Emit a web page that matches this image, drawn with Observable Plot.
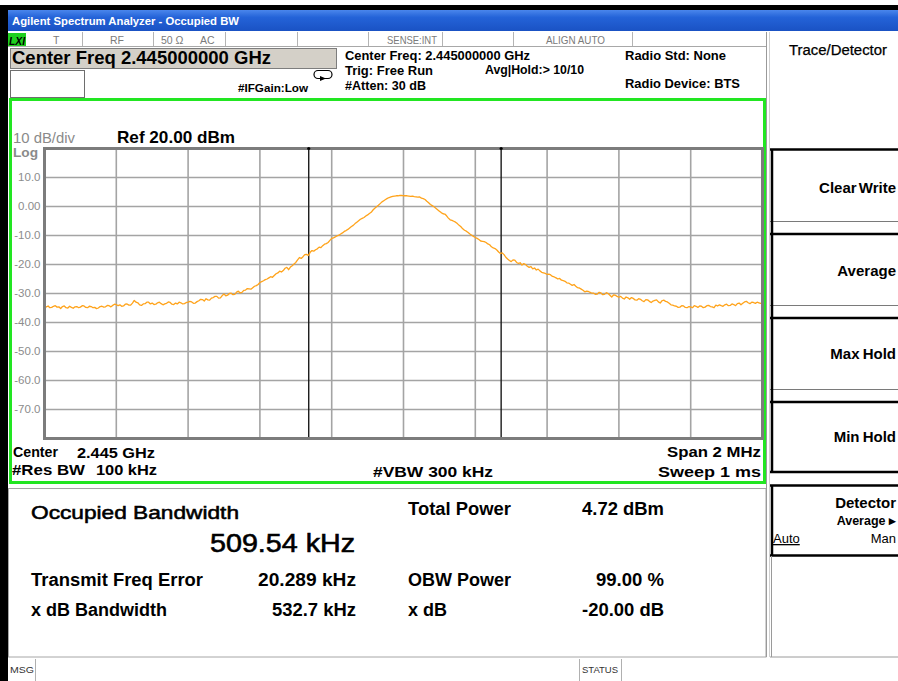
<!DOCTYPE html>
<html><head><meta charset="utf-8">
<script src="https://cdn.jsdelivr.net/npm/d3@7"></script>
<script src="https://cdn.jsdelivr.net/npm/@observablehq/plot@0.6"></script>
<style>
html,body{margin:0;padding:0;background:#fff;}
#root{position:relative;width:898px;height:681px;overflow:hidden;font-family:"Liberation Sans",Arial,sans-serif;}
#root svg{position:absolute;}
</style></head><body><div id="root"></div>
<script>
// ---- data ----
const startKHz = -1000;   // offset from centre 2.445 GHz
const stepKHz = 5;
const traceDbm = [
 -35.0,-34.6,-34.3,-34.9,-34.8,-34.4,-34.2,-34.7,-34.6,-35.2,-34.5,-34.3,-34.9,-35.0,-34.4,-34.8,-35.1,-34.6,-34.5,-34.9,
 -34.7,-34.2,-34.3,-34.8,-34.9,-34.4,-34.5,-34.9,-34.8,-35.2,-35.0,-34.5,-34.4,-34.7,-34.6,-34.1,-34.2,-34.6,-34.1,-33.7,
 -33.8,-34.2,-33.9,-34.4,-34.3,-33.7,-33.6,-34.0,-34.0,-33.3,-32.4,-33.0,-33.2,-33.9,-34.1,-33.6,-33.5,-33.0,-33.0,-33.6,
 -33.3,-33.8,-33.7,-33.2,-33.0,-33.5,-33.9,-33.6,-33.4,-32.9,-33.1,-33.7,-33.8,-33.3,-33.6,-33.0,-33.2,-33.6,-33.5,-33.1,
 -33.0,-32.7,-32.9,-33.4,-33.3,-32.8,-32.5,-32.0,-32.1,-32.6,-31.8,-32.2,-32.3,-31.6,-31.4,-31.0,-31.0,-31.6,-31.5,-30.7,
 -30.2,-30.8,-30.6,-30.0,-29.9,-30.4,-30.3,-29.5,-29.2,-29.8,-29.6,-28.9,-28.8,-28.3,-28.4,-28.5,-28.0,-27.5,-27.3,-26.9,
 -26.2,-25.9,-25.6,-25.2,-25.0,-24.6,-24.2,-24.4,-23.8,-23.2,-22.9,-22.3,-22.6,-22.1,-21.3,-21.0,-21.8,-20.9,-20.4,-19.8,
 -19.3,-18.4,-17.6,-17.9,-17.3,-16.6,-16.5,-16.9,-15.8,-15.2,-15.4,-14.9,-14.6,-14.0,-14.2,-13.5,-13.0,-12.8,-12.4,-11.7,
 -11.0,-10.8,-10.5,-10.1,-9.9,-9.5,-9.1,-8.6,-8.3,-7.9,-7.4,-6.9,-6.5,-5.9,-5.4,-4.9,-4.4,-4.1,-3.8,-3.3,
 -2.9,-2.4,-2.0,-1.2,-0.6,-0.1,0.4,1.0,1.6,2.0,2.4,2.8,3.1,3.3,3.5,3.6,3.7,3.7,3.8,3.8,
 3.7,3.7,3.7,3.6,3.5,3.6,3.4,3.3,3.2,3.3,2.9,2.7,2.4,1.8,1.3,0.7,0.3,-0.1,-0.6,-1.1,
 -1.6,-2.1,-2.5,-2.6,-3.2,-4.0,-4.6,-4.8,-5.1,-5.4,-5.9,-6.5,-7.0,-7.7,-8.2,-8.5,-9.0,-9.5,-9.9,-10.3,
 -10.7,-11.0,-11.4,-11.9,-12.0,-12.1,-12.4,-12.9,-13.2,-13.9,-14.3,-14.5,-15.0,-15.7,-16.2,-16.0,-16.6,-17.5,-18.1,-18.6,
 -19.0,-18.4,-18.5,-19.3,-19.6,-19.4,-20.2,-19.7,-20.0,-20.6,-21.0,-20.7,-21.5,-21.2,-21.9,-21.6,-22.2,-22.7,-22.9,-23.1,
 -23.4,-23.3,-23.6,-24.1,-24.3,-24.6,-25.0,-24.8,-25.4,-25.6,-25.8,-26.3,-26.4,-26.8,-27.2,-26.9,-27.5,-28.0,-28.1,-28.5,
 -28.9,-29.4,-29.2,-29.3,-29.6,-29.9,-29.9,-30.3,-30.2,-29.6,-29.8,-30.4,-30.3,-29.7,-30.0,-30.6,-31.2,-30.5,-30.6,-31.0,
 -31.3,-31.0,-31.6,-31.9,-31.2,-31.5,-32.0,-31.4,-31.7,-32.2,-32.3,-31.8,-32.0,-32.5,-32.8,-32.1,-32.2,-32.7,-33.1,-32.6,
 -32.4,-32.2,-32.9,-33.3,-32.5,-32.3,-32.7,-32.9,-33.4,-33.9,-34.0,-34.3,-34.4,-34.8,-34.7,-34.2,-34.3,-34.8,-34.9,-34.5,
 -34.6,-34.9,-34.2,-34.4,-34.8,-34.3,-34.4,-34.9,-34.7,-34.2,-34.1,-34.5,-34.6,-34.9,-34.0,-34.3,-33.9,-34.2,-34.4,-33.9,
 -33.7,-34.2,-34.1,-33.6,-33.8,-34.2,-33.5,-33.3,-33.9,-33.4,-32.9,-32.7,-33.2,-33.5,-33.0,-33.1,-33.4,-33.0,-33.2,-33.4,-33.3
];
const gridFreqKHz = [-1000,-800,-600,-400,-200,0,200,400,600,800,1000];
const gridLevelDbm = [20,10,0,-10,-20,-30,-40,-50,-60,-70,-80];
const yTickValues = [10,0,-10,-20,-30,-40,-50,-60,-70];
const yTickLabels = ["10.0","0.00","-10.0","-20.0","-30.0","-40.0","-50.0","-60.0","-70.0"];
const obwMarkersKHz = [-264, 272];

const FONT = '"Liberation Sans", Arial, sans-serif';
const root = d3.select("#root");

// ---- chrome (instrument screen) ----
const svg = root.append("svg").attr("width",898).attr("height",681).style("left","0px").style("top","0px");
const defs = svg.append("defs");
const g = defs.append("linearGradient").attr("id","tb").attr("x1",0).attr("y1",0).attr("x2",0).attr("y2",1);
g.append("stop").attr("offset","0%").attr("stop-color","#4a86ec");
g.append("stop").attr("offset","35%").attr("stop-color","#2463d8");
g.append("stop").attr("offset","100%").attr("stop-color","#1a52c4");

function rect(x,y,w,h,fill,stroke,sw){
  return svg.append("rect").attr("x",x).attr("y",y).attr("width",w).attr("height",h)
    .attr("fill",fill||"none").attr("stroke",stroke||"none").attr("stroke-width",sw||1);
}
function line(x1,y1,x2,y2,stroke,sw){
  return svg.append("line").attr("x1",x1).attr("y1",y1).attr("x2",x2).attr("y2",y2)
    .attr("stroke",stroke).attr("stroke-width",sw||1);
}
function text(s,x,y,o={}){
  const t = svg.append("text").attr("x",x).attr("y",y).text(s)
    .attr("font-family",FONT).attr("font-size",o.size||12)
    .attr("font-weight",o.weight||"normal").attr("fill",o.fill||"#000")
    .attr("text-anchor",o.anchor||"start");
  if (o.len) t.attr("textLength",o.len).attr("lengthAdjust","spacingAndGlyphs");
  if (o.italic) t.attr("font-style","italic");
  if (o.underline) t.attr("text-decoration","underline");
  if (o.sw) t.attr("stroke",o.fill||"#000").attr("stroke-width",o.sw);
  if (o.ws!=null) t.attr("word-spacing",o.ws);
  return t;
}

rect(0,0,898,681,"#fff");
rect(0,5,898,676,"#000");
rect(8,10,890,21,"url(#tb)");
rect(8,31,890,650,"#fff");
text("Agilent Spectrum Analyzer - Occupied BW",12,25,{size:11.5,weight:"bold",fill:"#fff",len:227});

// status row
line(8,46.5,766,46.5,"#a8a8a8",1);
[82,153,225,297,368,442,513,632].forEach(x=>line(x+0.5,32,x+0.5,46,"#b4b4b4",1));
rect(8,33,18,13,"#1fd01f");
text("LXI",9,44.5,{size:10,weight:"bold",italic:true,len:16});
const gc="#7a7a7a";
text("T",53,44,{size:10.5,fill:gc});
text("RF",110,44,{size:10.5,fill:gc});
text("50 Ω",161,44,{size:10.5,fill:gc});
text("AC",200,44,{size:10.5,fill:gc});
text("SENSE:INT",387,44,{size:10.5,fill:gc,len:50});
text("ALIGN AUTO",546,44,{size:10.5,fill:gc,len:59});

// centre freq box
rect(10.5,48.5,326,20,"#d4d0c8","#7d7d7d",1);
text("Center Freq 2.445000000 GHz",12,64,{size:18.5,weight:"bold",len:259});
rect(10.5,70.5,74,27,"#fff","#6e6e6e",1);
text("#IFGain:Low",238,91.5,{size:11.5,weight:"bold",len:70});
svg.append("rect").attr("x",314).attr("y",70.5).attr("width",18).attr("height",8).attr("rx",4)
  .attr("fill","none").attr("stroke","#000").attr("stroke-width",1.2);
svg.append("path").attr("d","M320,76 L326,78.5 L320,81 Z").attr("fill","#000");
text("Center Freq: 2.445000000 GHz",345,59.5,{size:12.5,weight:"bold",len:185});
text("Trig: Free Run",345,74.5,{size:12.5,weight:"bold",len:88});
text("#Atten: 30 dB",345,90,{size:12.5,weight:"bold",len:81});
text("Avg|Hold:> 10/10",485,73.5,{size:12.5,weight:"bold",len:99});
text("Radio Std: None",625,59.5,{size:12.5,weight:"bold",len:101});
text("Radio Device: BTS",625,87.5,{size:12.5,weight:"bold",len:115});

// green chart panel
rect(10.5,99.5,754,383,"#fff","#22e622",3);
text("10 dB/div",13,142.5,{size:14,fill:"#8a8a8a",len:62});
text("Log",13,157,{size:13,weight:"bold",fill:"#8a8a8a",len:25});
text("Ref 20.00 dBm",117,142.5,{size:16.5,weight:"bold",len:118});
text("Center",13,456.5,{size:15,weight:"bold",len:45});
text("2.445 GHz",77,457.5,{size:15,weight:"bold",len:78});
text("#Res BW",12,475,{size:15,weight:"bold",len:73});
text("100 kHz",96,475,{size:15,weight:"bold",len:61});
text("#VBW  300 kHz",373,476.5,{size:15,weight:"bold",len:120});
text("Span 2 MHz",667,457,{size:15,weight:"bold",len:94});
text("Sweep  1 ms",658,476.5,{size:15,weight:"bold",len:103});

// results panel
rect(8.5,488.5,757.5,168.5,"#fff","#a6a6a6",1);
text("Occupied Bandwidth",31,519,{size:19,len:208,sw:0.55});
text("509.54 kHz",210,551.5,{size:26,len:145,sw:0.6});
const rs={size:17.5,weight:"bold"};
text("Transmit Freq Error",31,586,{...rs,len:172});
text("20.289 kHz",258,586,{...rs,len:98});
text("x dB Bandwidth",31,616,{...rs,len:136});
text("532.7 kHz",272,616,{...rs,len:84});
text("Total Power",408,515,{...rs,len:103});
text("4.72 dBm",582,515,{...rs,len:82});
text("OBW Power",408,586,{...rs,len:103});
text("99.00 %",596,586,{...rs,len:68});
text("x dB",408,616,{...rs,len:39});
text("-20.00 dB",582,616,{...rs,len:82});

// bottom status bar
line(35.5,659,35.5,681,"#b0b0b0",1);
text("MSG",10,673,{size:9,fill:"#333",len:24});
line(579.5,659,579.5,681,"#b0b0b0",1);
line(621.5,659,621.5,681,"#b0b0b0",1);
text("STATUS",582,673,{size:9,fill:"#333",len:36});

// right soft-key panel
line(766.5,32,766.5,657,"#9a9a9a",1);
line(769.5,32,769.5,657,"#d0d0d0",1);
text("Trace/Detector",789,55,{size:14,len:98,sw:0.25});
[149.5,234,318,402,472].forEach(y=>line(770,y,898,y,"#000",2.5));
[221.5,305.5,389.5].forEach(y=>line(770,y,898,y,"#7a7a7a",1));
line(772,149,772,473,"#000",2.5);
const bs={size:15,weight:"bold"};
text("Clear Write",896,192.5,{...bs,ws:-2,anchor:"end"});
text("Average",896,276,{...bs,anchor:"end"});
text("Max Hold",896,359,{...bs,ws:-1,anchor:"end"});
text("Min Hold",896,442,{...bs,ws:-1,anchor:"end"});
line(770,485.5,898,485.5,"#000",2.5);
line(770,555.5,898,555.5,"#000",2.5);
line(772,485,772,556,"#000",2.5);
line(771.5,556,771.5,657,"#9a9a9a",1);
line(770,657,898,657,"#9a9a9a",1);
text("Detector",896,507.5,{size:15,weight:"bold",anchor:"end"});
text("Average \u25B8",896,525,{size:12.5,weight:"bold",anchor:"end"});
text("Auto",773,543,{size:13,underline:true});
text("Man",896,543,{size:13,anchor:"end"});

// ---- spectrum chart drawn with Plot ----
const trace = traceDbm.map((v,i)=>({f:startKHz+i*stepKHz, dbm:v}));
const yLab = new Map(yTickValues.map((v,i)=>[v,yTickLabels[i]]));
const chart = Plot.plot({
  width:756, height:380,
  marginLeft:34, marginRight:4, marginTop:48, marginBottom:42,
  style:{background:"transparent", overflow:"visible", fontFamily:FONT},
  x:{domain:[-1000,1000], axis:null},
  y:{domain:[-80,20], axis:null},
  marks:[
    Plot.ruleX(gridFreqKHz, {x:d=>d, stroke:"#a4a4a4", strokeWidth:1.6}),
    Plot.ruleY(gridLevelDbm, {y:d=>d, stroke:"#a4a4a4", strokeWidth:1.6}),
    Plot.ruleX(obwMarkersKHz, {x:d=>d, stroke:"#1a1a1a", strokeWidth:1.4}),
    Plot.line(trace, {x:"f", y:"dbm", stroke:"#ffa31a", strokeWidth:1.3}),
    Plot.frame({stroke:"#7c7c7c", strokeWidth:3}),
    Plot.dot(obwMarkersKHz, {x:d=>d, y:()=>20, r:1.6, fill:"#000"}),
    Plot.text(yTickValues, {y:d=>d, text:d=>yLab.get(d), frameAnchor:"left", textAnchor:"end", dx:-4, fill:"#8c8c8c", fontSize:11.5})
  ]
});
d3.select(chart).style("left","10px").style("top","100px").style("position","absolute");
root.node().appendChild(chart);
</script>
</body></html>
